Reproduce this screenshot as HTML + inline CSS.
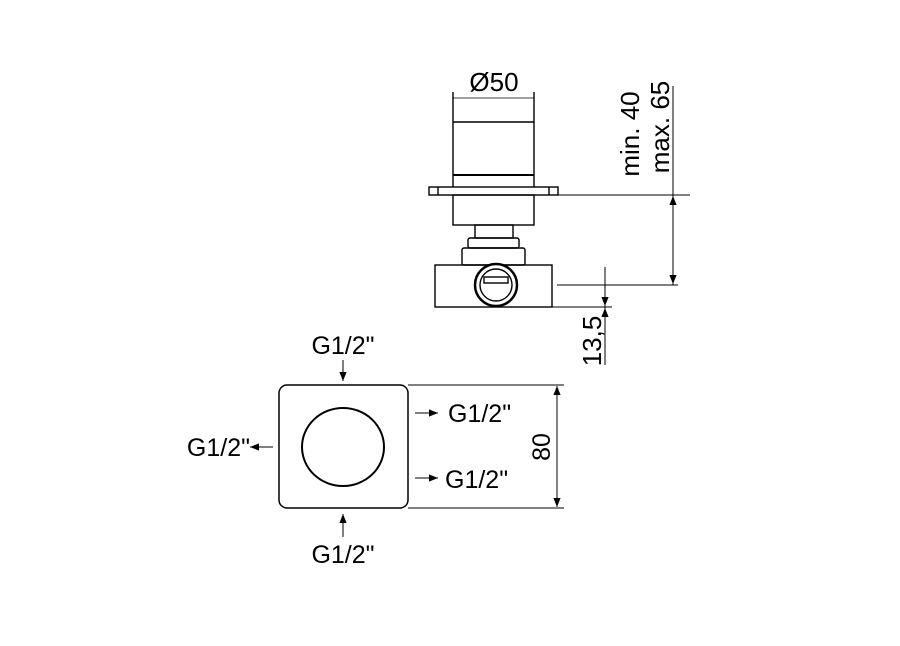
<!DOCTYPE html>
<html><head><style>body{margin:0;background:#fff}</style></head><body>
<svg width="900" height="641" viewBox="0 0 900 641" xmlns="http://www.w3.org/2000/svg" font-family="Liberation Sans, sans-serif" fill="none" stroke="#000">
<defs>
<marker id="a" viewBox="0 0 10 10" refX="10" refY="5" markerWidth="9" markerHeight="9" markerUnits="userSpaceOnUse" orient="auto"><path d="M0,1 L10,5 L0,9 Z" fill="#000" stroke="none"/></marker>
</defs>
<g stroke-width="1.4">
<line x1="453" y1="92" x2="453" y2="187"/>
<line x1="534" y1="92" x2="534" y2="187"/>
<line x1="453" y1="98" x2="534" y2="98" stroke-width="0.8"/>
<line x1="453" y1="122" x2="534" y2="122"/>
<line x1="453" y1="175" x2="534" y2="175" stroke-width="2"/>
<rect x="429" y="187" width="129" height="8"/>
<line x1="438" y1="187" x2="438" y2="195"/><line x1="549" y1="187" x2="549" y2="195"/>
<rect x="453" y="195" width="81" height="30"/>
<rect x="475" y="225" width="38" height="13"/>
<rect x="468" y="238" width="51" height="10" rx="2"/>
<rect x="462" y="248" width="63" height="17" rx="2"/>
<rect x="435" y="265" width="117" height="42"/>
<circle cx="496" cy="285" r="21" fill="#fff" stroke-width="2.5"/>
<circle cx="496" cy="285" r="16"/>
<rect x="484" y="277" width="24" height="6"/>
</g>
<g stroke-width="1">
<line x1="558" y1="195" x2="690" y2="195"/>
<line x1="557" y1="285" x2="678" y2="285"/>
<line x1="673" y1="86" x2="673" y2="285"/>
<line x1="673" y1="240" x2="673" y2="196" marker-end="url(#a)"/>
<line x1="673" y1="240" x2="673" y2="284" marker-end="url(#a)"/>
<line x1="552" y1="307" x2="612" y2="307"/>
<line x1="605" y1="267" x2="605" y2="365"/>
<line x1="605" y1="275" x2="605" y2="306" marker-end="url(#a)"/>
<line x1="605" y1="340" x2="605" y2="308" marker-end="url(#a)"/>
</g>
<g fill="#000" stroke="none" font-size="26">
<text x="494" y="91" text-anchor="middle">Ø50</text>
<text transform="translate(639,134) rotate(-90)" text-anchor="middle">min. 40</text>
<text transform="translate(669,127) rotate(-90)" text-anchor="middle">max. 65</text>
<text transform="translate(601,341) rotate(-90)" text-anchor="middle">13,5</text>
</g>
<g stroke-width="1.5">
<rect x="279" y="385" width="129" height="123" rx="8"/>
<ellipse cx="343" cy="447" rx="41" ry="39" stroke-width="2"/>
</g>
<g stroke-width="1">
<line x1="408" y1="385" x2="564" y2="385"/>
<line x1="408" y1="508" x2="564" y2="508"/>
<line x1="557" y1="447" x2="557" y2="386" marker-end="url(#a)"/>
<line x1="557" y1="447" x2="557" y2="507" marker-end="url(#a)"/>
<line x1="343" y1="360" x2="343" y2="381" marker-end="url(#a)"/>
<line x1="343" y1="537" x2="343" y2="514" marker-end="url(#a)"/>
<line x1="415" y1="413" x2="438" y2="413" marker-end="url(#a)"/>
<line x1="415" y1="478" x2="438" y2="478" marker-end="url(#a)"/>
<line x1="273" y1="447" x2="250" y2="447" marker-end="url(#a)"/>
</g>
<g fill="#000" stroke="none" font-size="25">
<text x="343" y="354" text-anchor="middle">G1/2"</text>
<text x="343" y="563" text-anchor="middle">G1/2"</text>
<text x="448" y="422">G1/2"</text>
<text x="445" y="488">G1/2"</text>
<text x="250" y="456" text-anchor="end">G1/2"</text>
<text transform="translate(550,447) rotate(-90)" text-anchor="middle">80</text>
</g>
</svg>
</body></html>
